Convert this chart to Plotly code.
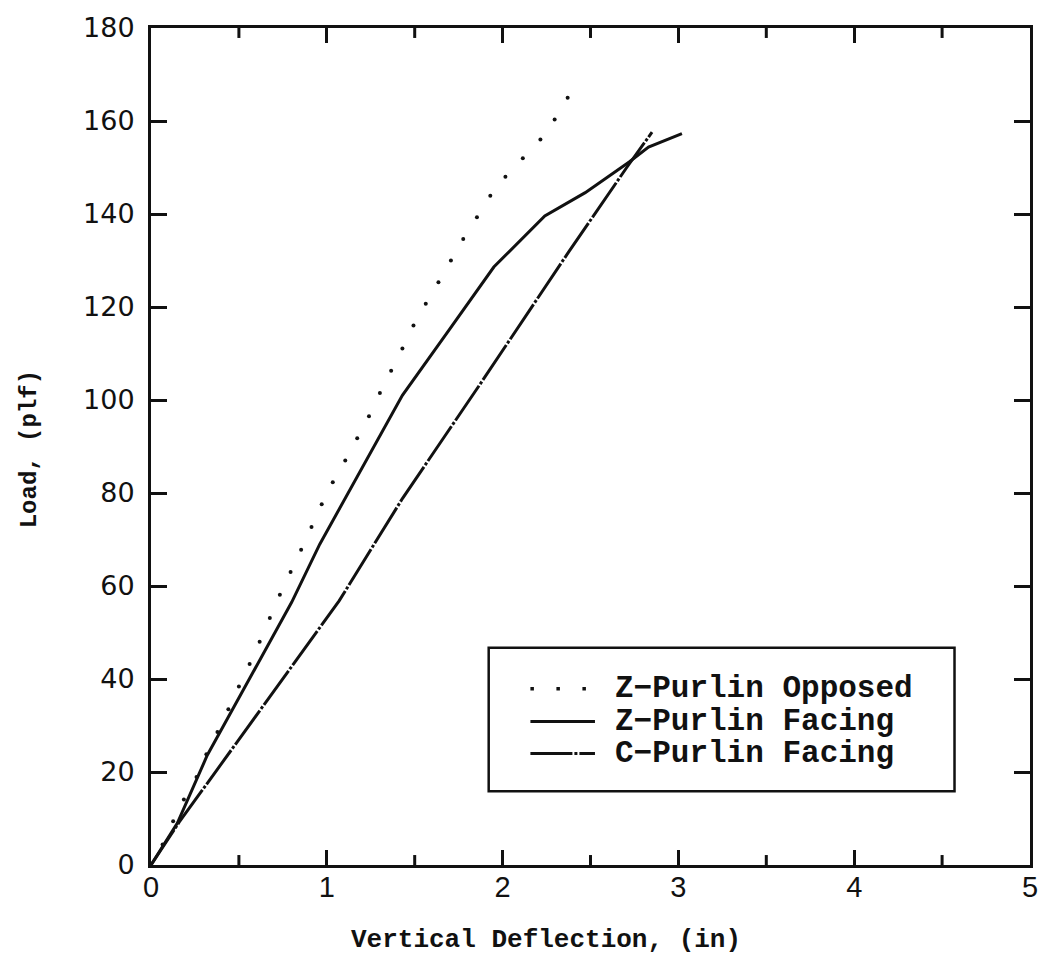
import plotly.graph_objects as go

# ---- data ----
zo_x = [0, 0.066, 0.126, 0.187, 0.259, 0.315, 0.378, 0.440, 0.500, 0.561, 0.618, 0.676,
        0.733, 0.794, 0.854, 0.913, 0.971, 1.034, 1.105, 1.173, 1.240, 1.302, 1.366, 1.430,
        1.493, 1.563, 1.635, 1.706, 1.776, 1.854, 1.930, 2.016, 2.115, 2.215, 2.296, 2.370]
zo_y = [0, 4.4, 9.4, 14.1, 18.9, 23.8, 28.6, 33.5, 38.4, 43.2, 48.0, 53.1,
        58.1, 63.0, 67.8, 72.7, 77.6, 82.3, 87.0, 91.8, 96.5, 101.5, 106.3, 111.1,
        116.0, 120.7, 125.3, 130.0, 134.6, 139.3, 143.9, 148.0, 152.0, 156.0, 160.3, 165.0]

zf_x = [0, 0.15, 0.32, 0.80, 0.96, 1.20, 1.43, 1.70, 1.95, 2.24, 2.47, 2.72, 2.83, 3.02]
zf_y = [0, 9.0, 23.6, 56.5, 69.0, 85.5, 101.0, 115.3, 128.6, 139.6, 144.6, 151.2, 154.4, 157.3]

cf_x = [0, 0.16, 0.81, 1.07, 1.43, 1.87, 2.375, 2.706, 2.85]
cf_y = [0, 9.2, 43.2, 56.8, 78.8, 103.3, 131.8, 150.0, 157.6]

series_names = ["Z\u2212Purlin Opposed", "Z\u2212Purlin Facing", "C\u2212Purlin Facing"]

x_range = [0, 5]
y_range = [0, 180]
x_major_ticks = [0, 1, 2, 3, 4, 5]
x_minor_ticks = [0.5, 1.5, 2.5, 3.5, 4.5]
y_ticks = [0, 20, 40, 60, 80, 100, 120, 140, 160, 180]

x_title = "Vertical Deflection, (in)"
y_title = "Load, (plf)"

# ---- figure ----
W, H = 1050, 961
L, R, T, B = 151, 14, 25, 96
PLOT_H = H - T - B
INK = "#111111"
CDASH = "42px,2px,3px,2px"
DOTS = "3.5px,22.5px"
MONO = "Liberation Mono"

fig = go.Figure()
fig.add_trace(go.Scatter(x=zo_x, y=zo_y, mode="markers", name=series_names[0],
                         marker=dict(size=4, color=INK), showlegend=False))
fig.add_trace(go.Scatter(x=zf_x, y=zf_y, mode="lines", name=series_names[1],
                         line=dict(color=INK, width=3), showlegend=False))
fig.add_trace(go.Scatter(x=cf_x, y=cf_y, mode="lines", name=series_names[2],
                         line=dict(color=INK, width=3, dash=CDASH), showlegend=False))


def px_x(p):
    return (p - L) / (W - L - R)


def px_y(p):
    return (H - B - p) / PLOT_H


shapes = []
# half-unit minor ticks on bottom and top x axes
minor_len = 10 / PLOT_H
for v in x_minor_ticks:
    for y0, y1 in ((0, minor_len), (1, 1 - minor_len)):
        shapes.append(dict(type="line", xref="x", yref="paper", x0=v, x1=v, y0=y0, y1=y1,
                           line=dict(color=INK, width=3), layer="above"))

# manual legend (box, samples, labels)
shapes.append(dict(type="rect", xref="paper", yref="paper",
                   x0=px_x(491), x1=px_x(960), y0=px_y(791), y1=px_y(647),
                   line=dict(color=INK, width=2.5), fillcolor="white", layer="below"))
rows = [688, 721, 753]
dashes = [DOTS, "solid", CDASH]
for yy, d in zip(rows, dashes):
    shapes.append(dict(type="line", xref="paper", yref="paper",
                       x0=px_x(533), x1=px_x(592 if d == DOTS else 598),
                       y0=px_y(yy), y1=px_y(yy),
                       line=dict(color=INK, width=3.5 if d == DOTS else 3, dash=d)))
annotations = []
for yy, name in zip(rows, series_names):
    annotations.append(dict(xref="paper", yref="paper", x=px_x(616), y=px_y(yy),
                            text=name, showarrow=False, xanchor="left", yanchor="middle",
                            font=dict(family=MONO, size=31, color=INK, weight="bold")))
# axis titles
annotations.append(dict(xref="paper", yref="paper", x=px_x(549), y=px_y(940),
                        text=x_title, showarrow=False, xanchor="center", yanchor="middle",
                        font=dict(family=MONO, size=26, color=INK, weight="bold")))
annotations.append(dict(xref="paper", yref="paper", x=px_x(29), y=px_y(448),
                        text=y_title, showarrow=False, xanchor="center", yanchor="middle",
                        textangle=-90,
                        font=dict(family=MONO, size=24, color=INK, weight="bold")))

axis_common = dict(showline=True, linecolor=INK, linewidth=3, mirror="ticks",
                   ticks="inside", tickcolor=INK, showgrid=False, zeroline=False)

fig.update_layout(
    width=W, height=H,
    margin=dict(l=L, r=R, t=T, b=B),
    paper_bgcolor="white", plot_bgcolor="white",
    showlegend=False,
    shapes=shapes, annotations=annotations,
    xaxis=dict(range=x_range, tickmode="array", tickvals=x_major_ticks,
               ticklen=15, tickwidth=2.5,
               tickfont=dict(family="Liberation Sans", size=29, color=INK),
               ticklabelstandoff=-6,
               **axis_common),
    yaxis=dict(range=y_range, tickmode="array", tickvals=y_ticks, ticklen=16, tickwidth=2.5,
               tickfont=dict(family="DejaVu Sans", size=27, color=INK),
               ticklabelstandoff=8,
               **axis_common),
)

fig.write_html("out.html")
